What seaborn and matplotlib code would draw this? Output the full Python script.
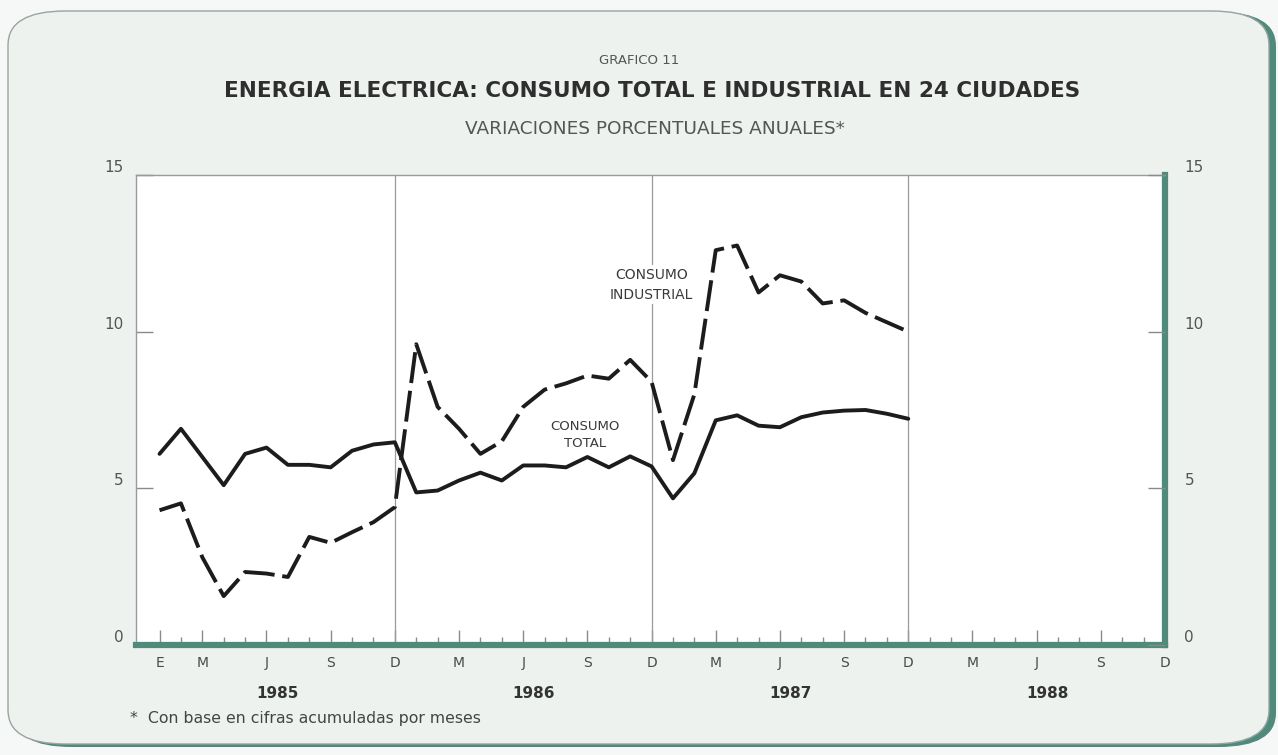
import matplotlib
matplotlib.use("Agg")
import matplotlib.pyplot as plt
from matplotlib.patches import FancyBboxPatch
import numpy as np
import pandas as pd
import seaborn as sns

# ---------------- data ----------------
meses = list(range(36))  # enero 1985 = 0 ... diciembre 1987 = 35
consumo_total = [6.1, 6.9, 6.0, 5.1, 6.1, 6.3, 5.75, 5.75, 5.67, 6.2, 6.4, 6.47,
                 4.87, 4.93, 5.25, 5.5, 5.25, 5.73, 5.73, 5.67, 6.0, 5.67, 6.02, 5.7,
                 4.68, 5.48, 7.17, 7.33, 7.0, 6.95, 7.27, 7.42, 7.48, 7.5, 7.38, 7.22]
consumo_industrial = [4.3, 4.52, 2.8, 1.56, 2.33, 2.28, 2.17, 3.45, 3.26, 3.6, 3.92, 4.4,
                      9.6, 7.6, 6.9, 6.1, 6.5, 7.6, 8.15, 8.35, 8.6, 8.5, 9.1, 8.4,
                      5.9, 8.0, 12.6, 12.75, 11.25, 11.8, 11.6, 10.9, 11.0, 10.6, 10.3, 10.0]
tick_pos = [0, 2, 5, 8, 11, 14, 17, 20, 23, 26, 29, 32, 35, 38, 41, 44, 47]
tick_labels = ["E", "M", "J", "S", "D", "M", "J", "S", "D",
               "M", "J", "S", "D", "M", "J", "S", "D"]
years = ["1985", "1986", "1987", "1988"]
year_pos = [5.5, 17.5, 29.5, 41.5]
dec_lines = [11, 23, 35]
y_ticks = [0, 5, 10, 15]

df = pd.DataFrame({
    "mes": meses * 2,
    "valor": consumo_total + consumo_industrial,
    "serie": ["CONSUMO TOTAL"] * 36 + ["CONSUMO INDUSTRIAL"] * 36,
})

# ---------------- figure ----------------
sns.set_theme(style="white")
plt.rcParams["font.family"] = ["DejaVu Sans"]

W, H = 1278, 755
fig = plt.figure(figsize=(W / 100, H / 100), dpi=100)
fig.patch.set_facecolor("#f6f8f7")

card_col = "#edf2ef"
teal = "#4f8a7b"
fig.patches.append(FancyBboxPatch((14 / W, 8 / H), 1262 / W, 735 / H,
                                  boxstyle="round,pad=0,rounding_size=0.045",
                                  transform=fig.transFigure, facecolor=teal,
                                  edgecolor="none", zorder=0))
fig.patches.append(FancyBboxPatch((8 / W, 11 / H), 1261 / W, 733 / H,
                                  boxstyle="round,pad=0,rounding_size=0.045",
                                  transform=fig.transFigure, facecolor=card_col,
                                  edgecolor="#9aa39f", linewidth=1.0, zorder=1))

ax = fig.add_axes([136 / W, (H - 645) / H, (1165 - 136) / W, (645 - 175) / H])
ax.set_facecolor("white")
ax.set_zorder(2)

sns.lineplot(data=df, x="mes", y="valor", style="serie",
             dashes={"CONSUMO TOTAL": "", "CONSUMO INDUSTRIAL": (8, 2.0)},
             color="#1c1c1c", linewidth=2.8, legend=False, ax=ax, zorder=5)

for d in dec_lines:
    ax.axvline(d, color="#9a9a9a", linewidth=0.9, zorder=1)

ax.set_xlim(-1.1, 47)
ax.set_ylim(0, 15)
ax.set_xlabel("")
ax.set_ylabel("")

for s in ["left", "top"]:
    ax.spines[s].set_color("#9a9a9a")
    ax.spines[s].set_linewidth(1.0)
ax.spines["bottom"].set_color(teal)
ax.spines["bottom"].set_linewidth(4.5)
ax.spines["right"].set_color(teal)
ax.spines["right"].set_linewidth(4.5)

# x ticks
ax.set_xticks(tick_pos)
ax.set_xticklabels(tick_labels)
ax.set_xticks(meses + list(range(36, 48)), minor=True)
ax.tick_params(axis="x", which="major", direction="in", length=11, width=1.0,
               color="#8a8a8a", labelsize=10, labelcolor="#4a4a4a", pad=8, bottom=True)
ax.tick_params(axis="x", which="minor", direction="in", length=6, width=1.0,
               color="#8a8a8a", bottom=True)

# left y ticks
ax.set_yticks(y_ticks)
ax.set_yticklabels([str(v) for v in y_ticks])
ax.tick_params(axis="y", which="major", direction="in", length=12, width=1.0,
               color="#8a8a8a", labelsize=11, labelcolor="#555555",
               left=True, right=False, labelleft=True, labelright=False, pad=9)
for lbl in ax.get_yticklabels():
    lbl.set_va("bottom")

# right y ticks (separate padding)
ax2 = ax.twinx()
ax2.set_ylim(0, 15)
ax2.set_yticks(y_ticks)
ax2.set_yticklabels([str(v) for v in y_ticks])
ax2.tick_params(axis="y", which="major", direction="in", length=12, width=1.0,
                color="#8a8a8a", labelsize=11, labelcolor="#555555",
                left=False, right=True, labelleft=False, labelright=True, pad=14)
for lbl in ax2.get_yticklabels():
    lbl.set_va("bottom")
for s in ax2.spines.values():
    s.set_visible(False)
ax2.grid(False)

# year labels
for yl, xp in zip(years, year_pos):
    ax.text(xp, -48 / 470, yl, transform=ax.get_xaxis_transform(), ha="center", va="center",
            fontsize=11, color="#333333", fontweight="bold")

# annotations
ax.text(23.0, 11.5, "CONSUMO\nINDUSTRIAL", ha="center", va="center", fontsize=10,
        color="#3a3a3a", linespacing=1.55, zorder=6,
        bbox=dict(facecolor="white", edgecolor="none", pad=2))
ax.text(19.9, 6.7, "CONSUMO\nTOTAL", ha="center", va="center", fontsize=9.5,
        color="#3a3a3a", linespacing=1.45, zorder=6,
        bbox=dict(facecolor="white", edgecolor="none", pad=2))

# titles
fig.text(639 / W, (H - 60) / H, "GRAFICO 11", ha="center", va="center",
         fontsize=9.5, color="#555555")
fig.text(652 / W, (H - 91) / H, "ENERGIA ELECTRICA: CONSUMO TOTAL E INDUSTRIAL EN 24 CIUDADES",
         ha="center", va="center", fontsize=15.5, color="#2e2e2e", fontweight="bold")
fig.text(655 / W, (H - 129) / H, "VARIACIONES PORCENTUALES ANUALES*", ha="center", va="center",
         fontsize=13.3, color="#555555")
fig.text(130 / W, (H - 718) / H, "*  Con base en cifras acumuladas por meses",
         ha="left", va="center", fontsize=11.3, color="#444444")

fig.savefig("out.png", dpi=100, facecolor=fig.get_facecolor())
